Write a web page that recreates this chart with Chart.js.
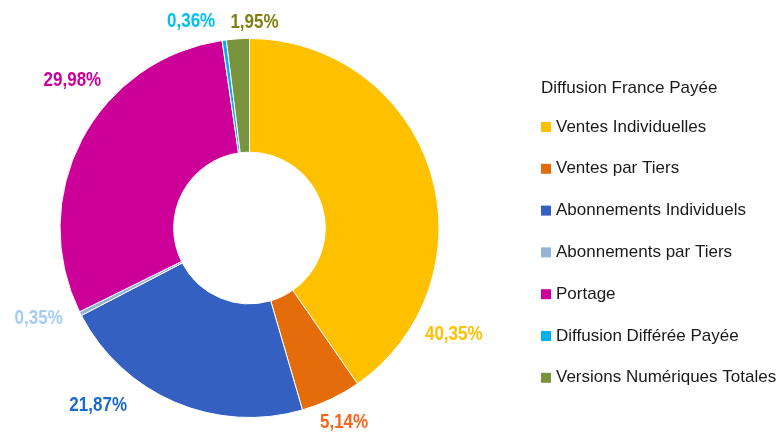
<!DOCTYPE html>
<html>
<head>
<meta charset="utf-8">
<script src="https://cdn.jsdelivr.net/npm/chart.js@4.4.1/dist/chart.umd.min.js"></script>
<style>
  html, body { margin: 0; padding: 0; background: #fff; }
  #wrap { width: 782px; height: 433px; }
</style>
</head>
<body>
<div id="wrap"><canvas id="myChart"></canvas></div>
<script>
const categories = ['Ventes Individuelles', 'Ventes par Tiers', 'Abonnements Individuels', 'Abonnements par Tiers', 'Portage', 'Diffusion Différée Payée', 'Versions Numériques Totales'];
const shares = [40.35, 5.14, 21.87, 0.35, 29.98, 0.36, 1.95];
const legendTitle = 'Diffusion France Payée';

const sliceColors = ['#FFC000', '#E46C0A', '#3461C1', '#95B3D7', '#CC0099', '#00B0F0', '#77933C'];
const labelColors = ['#FFC000', '#F7661A', '#1C6AD0', '#A6CCF5', '#CC0099', '#00C0F0', '#808010'];
// label placement: angle (deg, clockwise from top) and distance past the outer edge
const labelSpots = [[117.6, 41], [154.1, 27], [220.4, 44], [246.7, 40], [309.8, 41], [344.2, 25], [1.4, 16]];

const FONT = "'Liberation Sans', Arial, sans-serif";

const fmt = v => v.toFixed(2).replace('.', ',') + '%';

const outsideLabels = {
    id: 'outsideLabels',
    afterDatasetsDraw(chart) {
        const ctx = chart.ctx;
        const meta = chart.getDatasetMeta(0);
        meta.data.forEach((arc, i) => {
            const [deg, extra] = labelSpots[i];
            const a = deg * Math.PI / 180;
            const r = arc.outerRadius + extra;
            const x = arc.x + r * Math.sin(a);
            const y = arc.y - r * Math.cos(a);
            ctx.save();
            ctx.translate(x, y);
            ctx.scale(0.85, 1); // narrow look of the original labels
            ctx.font = 'bold 20px ' + FONT;
            ctx.textAlign = 'center';
            ctx.textBaseline = 'middle';
            ctx.fillStyle = labelColors[i];
            ctx.fillText(fmt(shares[i]), 0, 0);
            ctx.restore();
        });
    }
};

const sideLegend = {
    id: 'sideLegend',
    afterDraw(chart) {
        const ctx = chart.ctx;
        const items = chart.options.plugins.legend.labels.generateLabels(chart);
        const x0 = 541, yTitle = 88, yFirst = 127, step = 41.8;
        ctx.save();
        ctx.font = '17px ' + FONT;
        ctx.textBaseline = 'middle';
        ctx.fillStyle = '#1a1a1a';
        ctx.fillText(legendTitle, x0, yTitle);
        items.forEach((it, i) => {
            const y = yFirst + i * step;
            ctx.fillStyle = it.fillStyle;
            ctx.fillRect(x0, y - 5, 10, 10);
            ctx.fillStyle = '#1a1a1a';
            ctx.fillText(it.text, x0 + 15, y);
        });
        ctx.restore();
    }
};

const ctx = document.getElementById('myChart').getContext('2d');
const myChart = new Chart(ctx, {
    type: 'doughnut',
    data: {
        labels: categories,
        datasets: [{
            data: shares,
            backgroundColor: sliceColors,
            borderColor: '#ffffff',
            borderWidth: 1
        }]
    },
    options: {
        responsive: true,
        maintainAspectRatio: false,
        animation: false,
        cutout: '40%',
        layout: {
            padding: { left: 0, right: 283, top: 38, bottom: 15 }
        },
        plugins: {
            legend: { display: false },
            tooltip: { enabled: false }
        }
    },
    plugins: [outsideLabels, sideLegend]
});
</script>
</body>
</html>
